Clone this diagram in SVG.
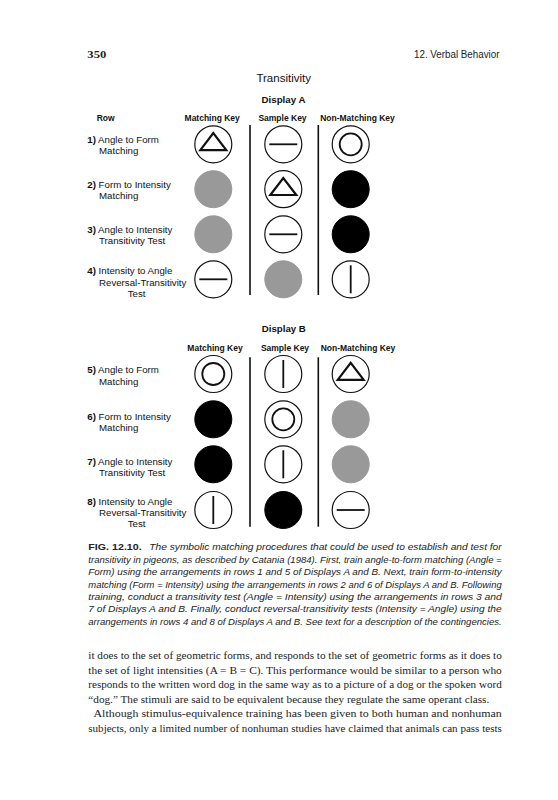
<svg xmlns="http://www.w3.org/2000/svg" width="558" height="800" viewBox="0 0 558 800">
<defs>
<style>
.bg{fill:#ffffff}
.hd{font-family:"Liberation Sans",Arial,sans-serif;font-size:8.5px;font-weight:bold;fill:#111}
.ttl{font-family:"Liberation Sans",Arial,sans-serif;font-size:11.5px;fill:#111}
.disp{font-family:"Liberation Sans",Arial,sans-serif;font-size:9.7px;font-weight:bold;fill:#111}
.lbl{font-family:"Liberation Sans",Arial,sans-serif;font-size:9.7px;fill:#111}
.lbl tspan.n{font-weight:bold}
.key{fill:#fff;stroke:#111;stroke-width:1.2}
.gray{fill:#999;stroke:#999;stroke-width:1}
.black{fill:#000;stroke:#000;stroke-width:1}
.inner{fill:none;stroke:#111;stroke-width:1.8}
.tri{fill:none;stroke:#111;stroke-width:2.2;stroke-linejoin:miter}
.bar{stroke:#111;stroke-width:1.8}
.div{stroke:#111;stroke-width:1.6}
.cap{font-family:"Liberation Sans",Arial,sans-serif;font-size:9.5px;font-style:italic;fill:#222}
.capb{font-family:"Liberation Sans",Arial,sans-serif;font-size:9.5px;font-weight:bold;fill:#222}
.body{font-family:"Liberation Serif","Times New Roman",serif;font-size:11px;fill:#222}
.pgn{font-family:"Liberation Serif","Times New Roman",serif;font-size:11px;font-weight:bold;fill:#222}
.run{font-family:"Liberation Sans",Arial,sans-serif;font-size:10px;fill:#222}
</style>
<circle id="ring" r="18.5" class="key"/>
<g id="k-tri"><circle r="18.5" class="key"/><path d="M-13,5.8 L0,-11.2 L13,5.8 Z" class="tri"/></g>
<g id="k-hor"><circle r="18.5" class="key"/><line x1="-14" y1="0" x2="14" y2="0" class="bar"/></g>
<g id="k-ver"><circle r="18.5" class="key"/><line x1="0" y1="-14" x2="0" y2="14" class="bar"/></g>
<g id="k-dbl"><circle r="18.5" class="key"/><circle r="11" class="inner"/></g>
<circle id="k-gray" r="18.5" class="gray"/>
<circle id="k-black" r="18.5" class="black"/>
</defs>
<rect class="bg" x="0" y="0" width="558" height="800"/>

<g id="page-header">
<text class="pgn" x="87.3" y="58" textLength="19" lengthAdjust="spacingAndGlyphs">350</text>
<text class="run" x="414" y="58" textLength="85.5" lengthAdjust="spacingAndGlyphs">12.  Verbal Behavior</text>
</g>

<g id="titles">
<text class="ttl" x="283.7" y="82" text-anchor="middle">Transitivity</text>
<text class="disp" x="283.5" y="102.8" text-anchor="middle">Display A</text>
<text class="disp" x="283.8" y="331.8" text-anchor="middle">Display B</text>
</g>

<g id="headers-a">
<text class="hd" x="96.7" y="120.6">Row</text>
<text class="hd" x="212.2" y="120.6" text-anchor="middle">Matching Key</text>
<text class="hd" x="282.5" y="120.6" text-anchor="middle">Sample Key</text>
<text class="hd" x="357.5" y="120.6" text-anchor="middle">Non-Matching Key</text>
</g>
<g id="headers-b">
<text class="hd" x="215" y="351.2" text-anchor="middle">Matching Key</text>
<text class="hd" x="285" y="351.2" text-anchor="middle">Sample Key</text>
<text class="hd" x="358" y="351.2" text-anchor="middle">Non-Matching Key</text>
</g>

<g id="connectors">
<line class="div" x1="250" y1="125" x2="250" y2="295"/>
<line class="div" x1="318.3" y1="125" x2="318.3" y2="295"/>
<line class="div" x1="250" y1="357.3" x2="250" y2="526.7"/>
<line class="div" x1="318.3" y1="357.3" x2="318.3" y2="526.7"/>
</g>

<g id="row1-label"><text class="lbl" x="87.3" y="142.7"><tspan class="n">1)</tspan> Angle to Form</text><text class="lbl" x="99" y="153.9">Matching</text></g>
<g id="row2-label"><text class="lbl" x="87.3" y="188"><tspan class="n">2)</tspan> Form to Intensity</text><text class="lbl" x="99" y="199.4">Matching</text></g>
<g id="row3-label"><text class="lbl" x="87.3" y="232.9"><tspan class="n">3)</tspan> Angle to Intensity</text><text class="lbl" x="99" y="244.3">Transitivity Test</text></g>
<g id="row4-label"><text class="lbl" x="87.3" y="274.2"><tspan class="n">4)</tspan> Intensity to Angle</text><text class="lbl" x="99" y="285.6">Reversal-Transitivity</text><text class="lbl" x="127.7" y="296.6">Test</text></g>

<g id="row5-label"><text class="lbl" x="87.3" y="373.4"><tspan class="n">5)</tspan> Angle to Form</text><text class="lbl" x="99" y="384.6">Matching</text></g>
<g id="row6-label"><text class="lbl" x="87.3" y="419.6"><tspan class="n">6)</tspan> Form to Intensity</text><text class="lbl" x="99" y="430.9">Matching</text></g>
<g id="row7-label"><text class="lbl" x="87.3" y="464.6"><tspan class="n">7)</tspan> Angle to Intensity</text><text class="lbl" x="99" y="476">Transitivity Test</text></g>
<g id="row8-label"><text class="lbl" x="87.3" y="505"><tspan class="n">8)</tspan> Intensity to Angle</text><text class="lbl" x="99" y="516.4">Reversal-Transitivity</text><text class="lbl" x="127.7" y="527.2">Test</text></g>

<g id="a1-match"><use href="#k-tri" x="213.3" y="144.3"/></g>
<g id="a1-sample"><use href="#k-hor" x="283.3" y="144.3"/></g>
<g id="a1-non"><use href="#k-dbl" x="350.7" y="144.3"/></g>
<g id="a2-match"><use href="#k-gray" x="213.3" y="189.2"/></g>
<g id="a2-sample"><use href="#k-tri" x="283.3" y="189.2"/></g>
<g id="a2-non"><use href="#k-black" x="350.7" y="189.2"/></g>
<g id="a3-match"><use href="#k-gray" x="213.3" y="234.3"/></g>
<g id="a3-sample"><use href="#k-hor" x="283.3" y="234.3"/></g>
<g id="a3-non"><use href="#k-black" x="350.7" y="234.3"/></g>
<g id="a4-match"><use href="#k-hor" x="213.3" y="279.3"/></g>
<g id="a4-sample"><use href="#k-gray" x="283.3" y="279.3"/></g>
<g id="a4-non"><use href="#k-ver" x="350.7" y="279.3"/></g>

<g id="b5-match"><use href="#k-dbl" x="213.3" y="374"/></g>
<g id="b5-sample"><use href="#k-ver" x="283.3" y="374"/></g>
<g id="b5-non"><use href="#k-tri" x="350.7" y="374"/></g>
<g id="b6-match"><use href="#k-black" x="213.3" y="419.3"/></g>
<g id="b6-sample"><use href="#k-dbl" x="283.3" y="419.3"/></g>
<g id="b6-non"><use href="#k-gray" x="350.7" y="419.3"/></g>
<g id="b7-match"><use href="#k-black" x="213.3" y="464.3"/></g>
<g id="b7-sample"><use href="#k-ver" x="283.3" y="464.3"/></g>
<g id="b7-non"><use href="#k-gray" x="350.7" y="464.3"/></g>
<g id="b8-match"><use href="#k-ver" x="213.3" y="510"/></g>
<g id="b8-sample"><use href="#k-black" x="283.3" y="510"/></g>
<g id="b8-non"><use href="#k-hor" x="350.7" y="510"/></g>

<g id="caption">
<text class="capb" x="88.3" y="550.3" textLength="53.4" lengthAdjust="spacingAndGlyphs">FIG. 12.10.</text>
<text class="cap" x="149.3" y="550.3" textLength="352.4" lengthAdjust="spacingAndGlyphs">The symbolic matching procedures that could be used to establish and test for</text>
<text class="cap" x="88.3" y="562.7" textLength="413.4" lengthAdjust="spacingAndGlyphs">transitivity in pigeons, as described by Catania (1984). First, train angle-to-form matching (Angle =</text>
<text class="cap" x="88.3" y="575.1" textLength="413.4" lengthAdjust="spacingAndGlyphs">Form) using the arrangements in rows 1 and 5 of Displays A and B. Next, train form-to-intensity</text>
<text class="cap" x="88.3" y="587.5" textLength="413.4" lengthAdjust="spacingAndGlyphs">matching (Form = Intensity) using the arrangements in rows 2 and 6 of Displays A and B. Following</text>
<text class="cap" x="88.3" y="599.9" textLength="413.4" lengthAdjust="spacingAndGlyphs">training, conduct a transitivity test (Angle = Intensity) using the arrangements in rows 3 and</text>
<text class="cap" x="88.3" y="612.3" textLength="413.4" lengthAdjust="spacingAndGlyphs">7 of Displays A and B. Finally, conduct reversal-transitivity tests (Intensity = Angle) using the</text>
<text class="cap" x="88.3" y="624.7" textLength="413.4" lengthAdjust="spacingAndGlyphs">arrangements in rows 4 and 8 of Displays A and B. See text for a description of the contingencies.</text>
</g>

<g id="body-text">
<text class="body" x="88.3" y="659" textLength="413.5" lengthAdjust="spacingAndGlyphs">it does to the set of geometric forms, and responds to the set of geometric forms as it does to</text>
<text class="body" x="88.3" y="673.5" textLength="413.5" lengthAdjust="spacingAndGlyphs">the set of light intensities (A = B = C). This performance would be similar to a person who</text>
<text class="body" x="88.3" y="688" textLength="413.5" lengthAdjust="spacingAndGlyphs">responds to the written word dog in the same way as to a picture of a dog or the spoken word</text>
<text class="body" x="88.3" y="702.5" textLength="401" lengthAdjust="spacingAndGlyphs">“dog.” The stimuli are said to be equivalent because they regulate the same operant class.</text>
<text class="body" x="93.5" y="717" textLength="408.3" lengthAdjust="spacingAndGlyphs">Although stimulus-equivalence training has been given to both human and nonhuman</text>
<text class="body" x="88.3" y="731.5" textLength="413.5" lengthAdjust="spacingAndGlyphs">subjects, only a limited number of nonhuman studies have claimed that animals can pass tests</text>
</g>
</svg>
